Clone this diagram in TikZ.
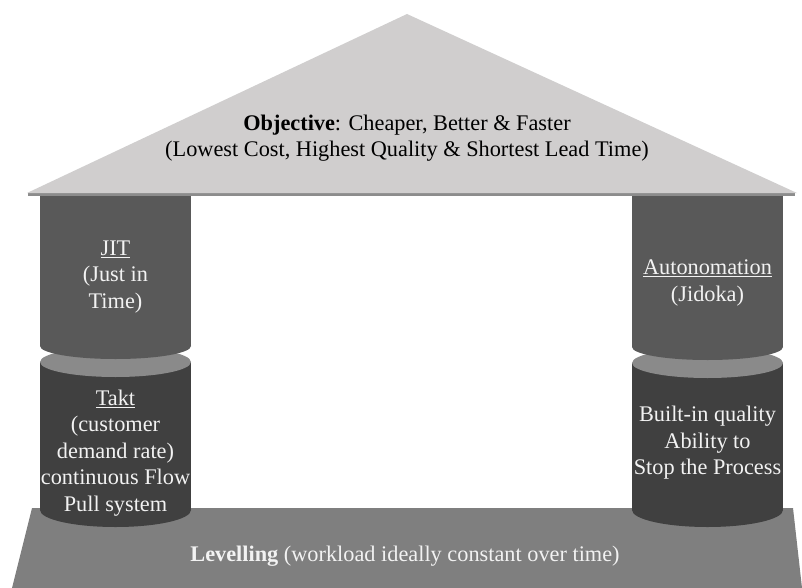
\documentclass[tikz,border=0pt]{standalone}
\usepackage{fontspec}
\setmainfont{Liberation Serif}
\definecolor{roofgray}{HTML}{D0CECE}
\definecolor{upper}{HTML}{595959}
\definecolor{lower}{HTML}{404040}
\definecolor{ring}{HTML}{8A8A8A}
\definecolor{basegray}{HTML}{7F7F7F}
\definecolor{paletext}{HTML}{F2F2F2}
\tikzset{
  label text/.style={font=\fontsize{22.3}{26.5}\selectfont, align=center, inner sep=0pt},
  pillar text/.style={label text, text=paletext},
}
\begin{document}
\begin{tikzpicture}[x=1pt, y=-1pt]
\useasboundingbox (0,0) rectangle (802,588);

% foundation slab
\fill[basegray] (32,508) -- (793,508) -- (802,588) -- (12,588) -- cycle;
\node[pillar text] (level) at (405,556) {\textbf{Levelling} (workload ideally constant over time)};

% left pillar: lower drum
\fill[lower] (40,362) rectangle (191,510);
\fill[lower] (115.5,510) ellipse [x radius=75.5pt, y radius=17pt];
\fill[ring] (115.5,362) ellipse [x radius=75.5pt, y radius=15pt];
% left pillar: upper drum
\fill[upper] (40,190) rectangle (191,346);
\fill[upper] (115.5,346) ellipse [x radius=75.5pt, y radius=13pt];

% right pillar: lower drum
\fill[lower] (632,363) rectangle (783,510);
\fill[lower] (707.5,510) ellipse [x radius=75.5pt, y radius=17pt];
\fill[ring] (707.5,363) ellipse [x radius=75.5pt, y radius=15pt];
% right pillar: upper drum
\fill[upper] (632,190) rectangle (783,347);
\fill[upper] (707.5,347) ellipse [x radius=75.5pt, y radius=13pt];

% roof with its shadow line
\fill[black!45] (28,193) -- (795,193) -- (795,196) -- (28,196) -- cycle;
\fill[roofgray] (407,14) -- (797,193) -- (27,193) -- cycle;
\node[label text] (objective) at (407,138)
  {\textbf{Objective}: Cheaper, Better \& Faster\\(Lowest Cost, Highest Quality \& Shortest Lead Time)};

% pillar labels
\node[pillar text] (jit) at (115.5,277) {\underline{JIT}\\(Just in\\Time)};
\node[pillar text] (takt) at (115.5,453) {\underline{Takt}\\(customer\\demand rate)\\continuous Flow\\Pull system};
\node[pillar text] (auto) at (707.5,283) {\underline{Autonomation}\\(Jidoka)};
\node[pillar text] (quality) at (707.5,443) {Built-in quality\\Ability to\\Stop the Process};
\end{tikzpicture}
\end{document}
